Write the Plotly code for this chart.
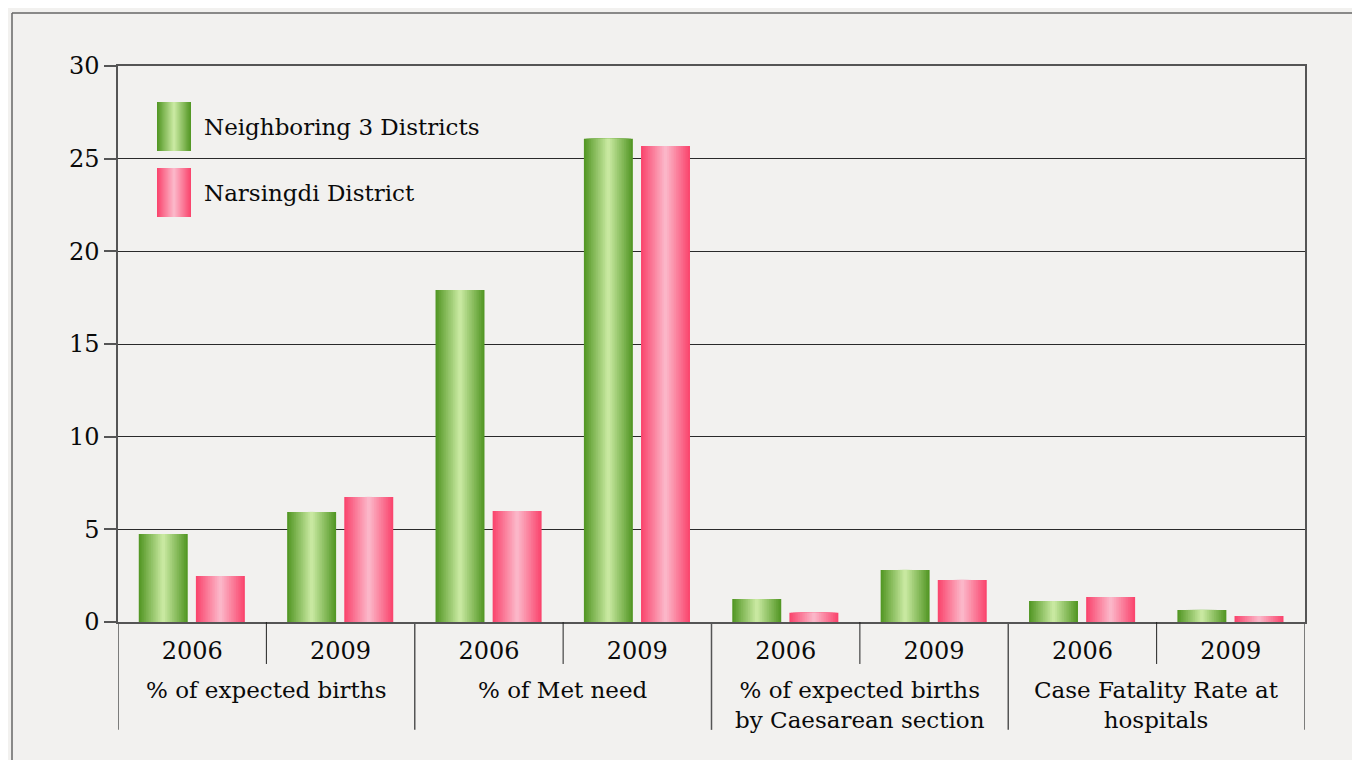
import plotly.graph_objects as go

# ---- data ----
groups = ["% of expected births", "% of Met need",
          "% of expected births<br>by Caesarean section",
          "Case Fatality Rate at<br>hospitals"]
years = ["2006", "2009"]
neighboring = [4.75, 5.94, 17.92, 26.07, 1.24, 2.81, 1.13, 0.65]
narsingdi = [2.48, 6.75, 5.99, 25.69, 0.50, 2.27, 1.35, 0.32]
series_names = ["Neighboring 3 Districts", "Narsingdi District"]
y_ticks = [0, 5, 10, 15, 20, 25, 30]

FONT = "DejaVu Serif"
GREEN_EDGE, GREEN_MID = (84, 152, 38), (200, 232, 160)
PINK_EDGE, PINK_MID = (250, 70, 110), (251, 182, 200)
NLAYERS = 14


def mix(a, b, t):
    return "rgb(%d,%d,%d)" % tuple(round(a[i] + (b[i] - a[i]) * t) for i in range(3))


xpos = list(range(len(neighboring)))
labels = [years[i % 2] for i in xpos]

fig = go.Figure()
BW = 0.33
for vals, start, edge, mid in [(neighboring, -0.36, GREEN_EDGE, GREEN_MID),
                               (narsingdi, 0.025, PINK_EDGE, PINK_MID)]:
    center = start + BW / 2
    for j in range(NLAYERS):
        frac = 1 - j / NLAYERS
        w = BW * frac
        t = j / (NLAYERS - 1)
        fig.add_trace(go.Bar(
            x=xpos, y=vals, width=[w] * len(xpos), offset=[center - w / 2] * len(xpos),
            marker=dict(color=mix(edge, mid, t), line=dict(width=0)),
            showlegend=False, hoverinfo="skip"))

shapes = []
annotations = []
# outer frame
shapes.append(dict(type="line", xref="paper", yref="paper", x0=-0.0893, x1=1.06, y0=1.0953, y1=1.0953,
                   line=dict(color="#666666", width=1.5)))
shapes.append(dict(type="line", xref="paper", yref="paper", x0=-0.0893, x1=-0.0893, y0=1.0953, y1=-0.26,
                   line=dict(color="#666666", width=1.5)))
# separators on the category axis
for xb in [0.5, 2.5, 4.5, 6.5]:
    shapes.append(dict(type="line", xref="x", yref="paper", x0=xb, x1=xb, y0=0, y1=-0.0755,
                       line=dict(color="#222222", width=1)))
for xb in [-0.5, 1.5, 3.5, 5.5, 7.5]:
    shapes.append(dict(type="line", xref="x", yref="paper", x0=xb, x1=xb, y0=0, y1=-0.194,
                       line=dict(color="#555555", width=1.5)))
# group labels
for gi, g in enumerate(groups):
    annotations.append(dict(x=gi * 2 + 0.5, y=-0.095, xref="x", yref="paper", text=g,
                            showarrow=False, xanchor="center", yanchor="top",
                            font=dict(family=FONT, size=23, color="#0a0a0a")))

# manual legend with gradient swatches (paper coords)
def px_x(p):
    return (p - 118) / 1187


def px_y(p):
    return (622 - p) / 556


for (top, bot), edge, mid, name in [((102, 151), GREEN_EDGE, GREEN_MID, series_names[0]),
                                    ((168, 217), PINK_EDGE, PINK_MID, series_names[1])]:
    cx = (157 + 191) / 2
    half = 17
    for j in range(NLAYERS):
        frac = 1 - j / NLAYERS
        t = j / (NLAYERS - 1)
        shapes.append(dict(type="rect", xref="paper", yref="paper",
                           x0=px_x(cx - half * frac), x1=px_x(cx + half * frac),
                           y0=px_y(bot), y1=px_y(top), line=dict(width=0),
                           fillcolor=mix(edge, mid, t)))
    annotations.append(dict(x=px_x(202), y=px_y((top + bot) / 2), xref="paper", yref="paper",
                            text=name, showarrow=False, xanchor="left", yanchor="middle",
                            font=dict(family=FONT, size=23, color="#0a0a0a")))

fig.update_layout(
    width=1352, height=752,
    margin=dict(l=110, r=55, t=58, b=138),
    paper_bgcolor="#f2f1ef", plot_bgcolor="rgba(0,0,0,0)",
    barmode="overlay", showlegend=False,
    font=dict(family=FONT, size=23, color="#0a0a0a"),
    shapes=shapes, annotations=annotations,
    xaxis=dict(range=[-0.5, 7.5], tickmode="array", tickvals=xpos, ticktext=labels,
               showgrid=False, zeroline=False, showline=True, linecolor="#555555", linewidth=1.5,
               mirror=True, ticks="", ticklabelstandoff=6,
               tickfont=dict(family=FONT, size=24, color="#0a0a0a")),
    yaxis=dict(range=[0, 30], tickmode="array", tickvals=y_ticks,
               showgrid=True, gridcolor="#2a2a2a", gridwidth=1, zeroline=False,
               showline=True, linecolor="#555555", linewidth=1.5, mirror=True,
               ticks="outside", ticklen=12, tickcolor="#555555", tickwidth=1.5,
               tickfont=dict(family=FONT, size=24, color="#0a0a0a")),
)

fig.write_html("out.html")
